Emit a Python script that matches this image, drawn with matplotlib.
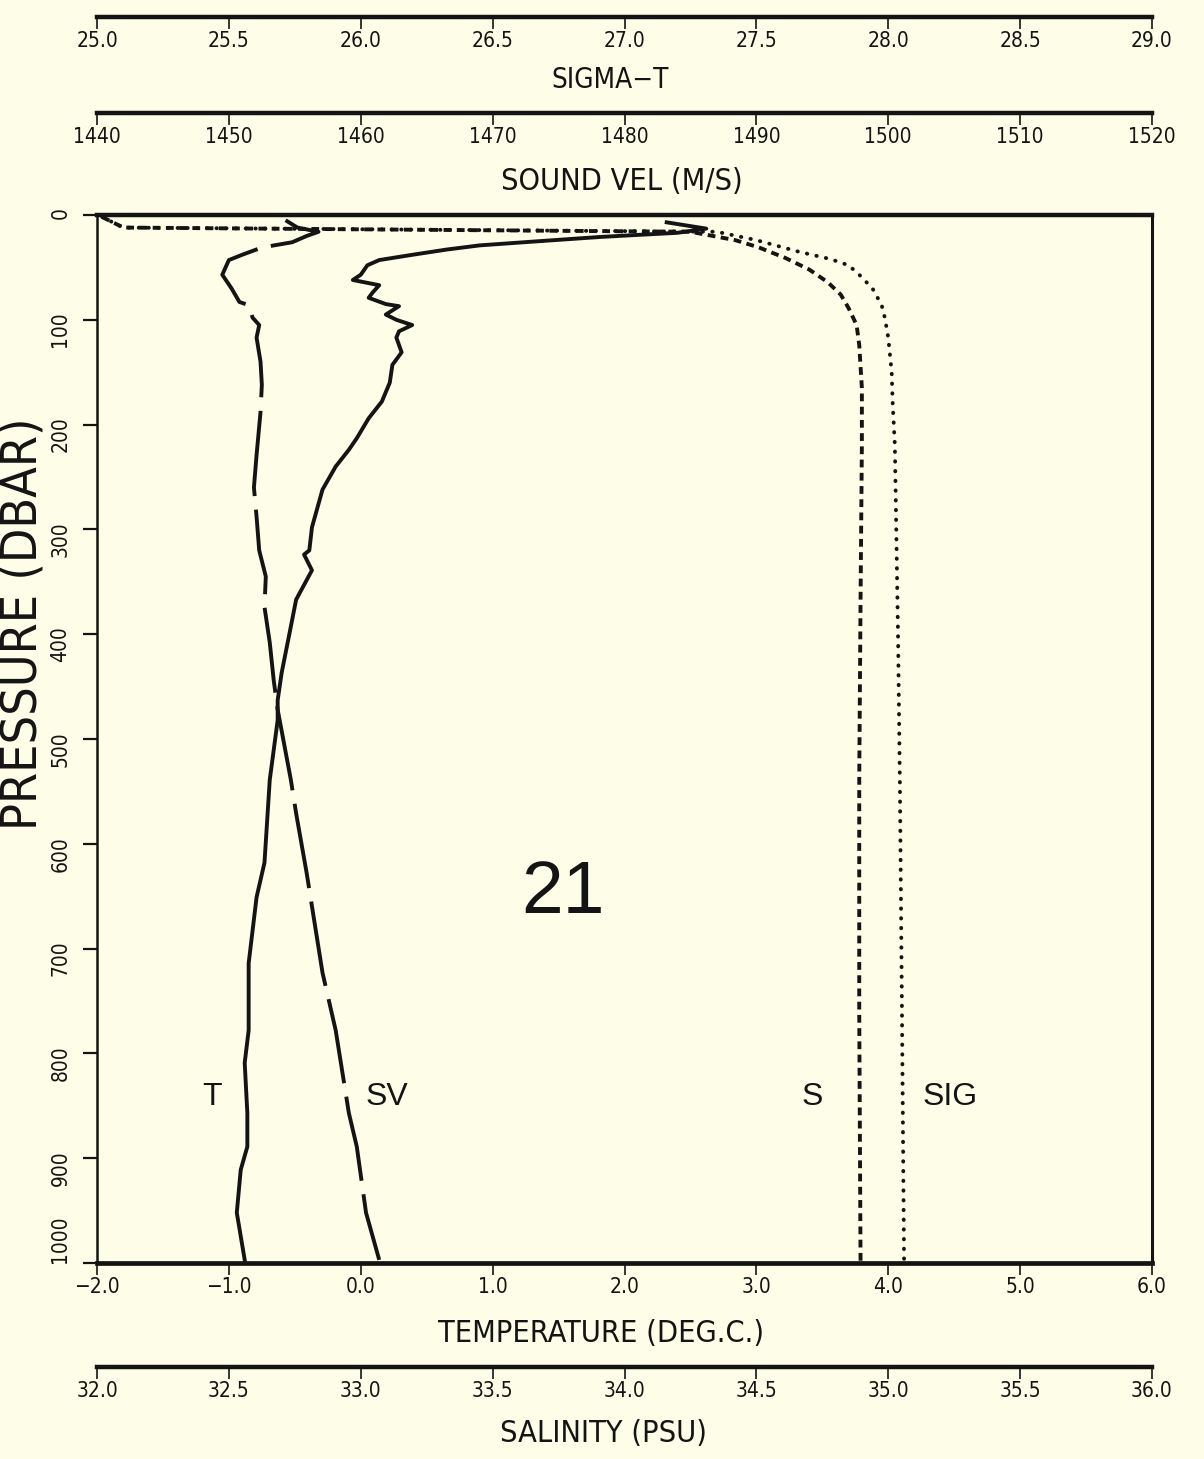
import matplotlib
matplotlib.use("Agg")
import matplotlib.pyplot as plt

# ---- CTD profile, station 21 ----
# temperature (deg C) vs pressure (dbar)
t_pres = [7, 13, 17, 19, 21, 25, 29, 33, 38, 43, 48, 57, 62, 65, 67, 74, 79, 85, 87,
          95, 100, 105, 111, 117, 131, 143, 160, 178, 194, 213, 224, 240, 262, 298,
          320, 324, 339, 367, 399, 437, 463, 482, 539, 618, 651, 714, 778, 809, 857,
          889, 911, 952, 997]
temp = [2.32, 2.62, 2.40, 2.10, 1.81, 1.35, 0.90, 0.65, 0.39, 0.14, 0.05, 0.00, -0.06,
        0.06, 0.14, 0.09, 0.06, 0.19, 0.29, 0.19, 0.27, 0.39, 0.29, 0.27, 0.31, 0.24,
        0.22, 0.16, 0.06, -0.03, -0.09, -0.19, -0.29, -0.37, -0.39, -0.43, -0.37,
        -0.49, -0.54, -0.60, -0.63, -0.63, -0.69, -0.73, -0.79, -0.85, -0.85, -0.88,
        -0.86, -0.86, -0.91, -0.94, -0.88]

# sound velocity (m/s)
sv_pres = [5, 12, 16, 20, 26, 31, 38, 43, 57, 70, 83, 86, 98, 105, 117, 140, 162, 188,
           229, 260, 288, 320, 345, 374, 408, 444, 472, 539, 571, 628, 723, 778, 857,
           889, 952, 997]
sound_vel = [1454.3, 1455.2, 1456.8, 1455.9, 1454.8, 1452.5, 1451.0, 1450.0, 1449.5,
             1450.2, 1450.8, 1451.5, 1451.8, 1452.3, 1452.1, 1452.4, 1452.5, 1452.4,
             1452.1, 1451.9, 1452.1, 1452.3, 1452.8, 1452.7, 1453.1, 1453.4, 1453.7,
             1454.7, 1455.1, 1455.9, 1457.1, 1458.1, 1459.1, 1459.7, 1460.4, 1461.4]

# salinity (PSU)
s_pres = [2, 7, 12, 16, 24, 31, 41, 52, 64, 76, 89, 105, 124, 165, 219, 367, 539, 760, 1000]
salinity = [32.02, 32.06, 32.10, 34.25, 34.42, 34.51, 34.61, 34.70, 34.77, 34.82,
            34.85, 34.88, 34.89, 34.90, 34.90, 34.895, 34.89, 34.89, 34.895]

# sigma-t
sig_pres = [2, 7, 12, 16, 24, 35, 42, 48, 57, 70, 86, 98, 117, 150, 181, 219, 400, 539,
            760, 1000]
sigma_t = [25.02, 25.06, 25.10, 27.35, 27.50, 27.66, 27.78, 27.85, 27.89, 27.94, 27.975,
           27.987, 28.00, 28.013, 28.017, 28.025, 28.037, 28.044, 28.052, 28.06]

# axis scales
temp_ticks = [-2, -1, 0, 1, 2, 3, 4, 5, 6]
sal_ticks = [32.0, 32.5, 33.0, 33.5, 34.0, 34.5, 35.0, 35.5, 36.0]
sig_ticks = [25.0, 25.5, 26.0, 26.5, 27.0, 27.5, 28.0, 28.5, 29.0]
sv_ticks = [1440, 1450, 1460, 1470, 1480, 1490, 1500, 1510, 1520]
sv_tick_labels = ["1440", "1450", "1460", "1470", "1480", "1490", "1500", "1510", "1520"]
pres_ticks = [0, 100, 200, 300, 400, 500, 600, 700, 800, 900, 1000]

W, H = 1204, 1459
DPI = 100
BG = "#fdfde8"
INK = "#141414"
PT = 72.0 / DPI  # points per pixel

plt.rcParams["font.family"] = ["DejaVu Sans"]
plt.rcParams["text.color"] = INK
plt.rcParams["axes.edgecolor"] = INK
plt.rcParams["xtick.color"] = INK
plt.rcParams["ytick.color"] = INK

fig = plt.figure(figsize=(W / DPI, H / DPI), dpi=DPI, facecolor=BG)

L_PX, R_PX, T_PX, B_PX = 97, 1152, 215, 1263
left = L_PX / W
width = (R_PX - L_PX) / W
bottom = 1 - B_PX / H
height = (B_PX - T_PX) / H

tick_font = dict(fontsize=15, fontstretch="condensed")
title_font = dict(fontsize=22, fontstretch="condensed")

ax = fig.add_axes([left, bottom, width, height])
ax.set_facecolor(BG)
ax.set_xlim(-2, 6)
ax.set_ylim(1000, 0)
ax.spines["top"].set_linewidth(3.2)
ax.spines["bottom"].set_linewidth(3.4)
ax.spines["left"].set_linewidth(1.8)
ax.spines["right"].set_linewidth(2.2)
ax.set_xticks(temp_ticks)
ax.set_xticklabels([f"{v:.1f}".replace("-", "\u2212") for v in temp_ticks], **tick_font)
ax.set_yticks(pres_ticks)
ylabels = ax.set_yticklabels([str(p) for p in pres_ticks], rotation=90, **tick_font)
ylabels[-1].set_verticalalignment("bottom")
ax.tick_params(axis="x", direction="out", length=12 * PT, width=1.2, pad=1.5)
ax.tick_params(axis="y", direction="out", length=14 * PT, width=1.6, pad=9)

LW = 2.8

# temperature on the main scale
ax.plot(temp, t_pres, color=INK, lw=LW, solid_joinstyle="round", clip_on=True)


def overlay(lo, hi):
    a = ax.twiny()
    a.set_xlim(lo, hi)
    a.set_ylim(1000, 0)
    a.axis("off")
    return a


ax_sv = overlay(1440, 1520)
ax_sv.plot(sound_vel, sv_pres, color=INK, lw=LW, linestyle=(0, (22, 3.5)),
           dash_capstyle="butt")

ax_s = overlay(32, 36)
ax_s.plot(salinity, s_pres, color=INK, lw=LW, linestyle=(0, (2.0, 1.4)),
          dash_capstyle="butt")

ax_sig = overlay(25, 29)
ax_sig.plot(sigma_t, sig_pres, color=INK, lw=LW, linestyle=(0, (0.1, 2.4)),
            dash_capstyle="round")

# curve labels and station number
label_font = dict(fontsize=23, family="Liberation Sans", ha="center", va="center")
ax.text(-1.13, 842, "T", **label_font)
ax.text(0.20, 842, "SV", **label_font)
ax.text(3.42, 842, "S", **label_font)
ax.text(4.47, 842, "SIG", **label_font)
ax.text(1.53, 647, "21", fontsize=54, family="Liberation Sans", ha="center", va="center")


def scale_bar(y_px, lo, hi, ticks, labels):
    a = fig.add_axes([left, 1 - y_px / H, width, 1e-6])
    a.set_facecolor("none")
    a.set_xlim(lo, hi)
    for s in ("top", "left", "right"):
        a.spines[s].set_visible(False)
    a.spines["bottom"].set_linewidth(3.2)
    a.set_yticks([])
    a.set_xticks(ticks)
    a.set_xticklabels(labels, **tick_font)
    a.tick_params(axis="x", direction="out", length=12 * PT, width=1.2, pad=1.5)
    return a


scale_bar(17, 25, 29, sig_ticks, [f"{v:.1f}" for v in sig_ticks])
scale_bar(113, 1440, 1520, sv_ticks, sv_tick_labels)
scale_bar(1367, 32, 36, sal_ticks, [f"{v:.1f}" for v in sal_ticks])


def ftext(x_px, y_px, s, **kw):
    fig.text(x_px / W, 1 - y_px / H, s, ha="center", va="center", **kw)


ftext(610, 80, "SIGMA\u2212T", fontsize=20, fontstretch="condensed")
ftext(622, 181, "SOUND VEL (M/S)", **title_font)
ftext(601, 1334, "TEMPERATURE (DEG.C.)", **title_font)
ftext(604, 1434, "SALINITY (PSU)", **title_font)
ftext(23, 624, "PRESSURE (DBAR)", rotation=90, fontsize=36, fontstretch="condensed")

fig.savefig("out.png", dpi=DPI, facecolor=BG)
